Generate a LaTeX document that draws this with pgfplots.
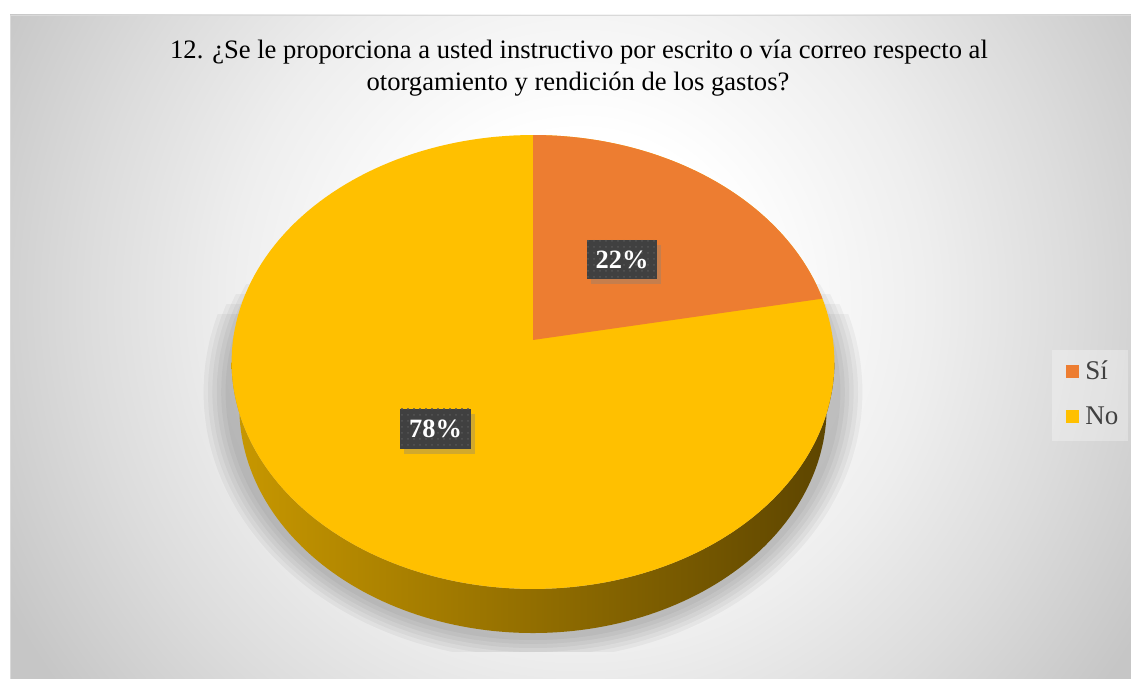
\documentclass[border=0pt]{standalone}
\usepackage{pgfplots}
\pgfplotsset{compat=1.18}
\usepackage{pgfplotstable}
\usetikzlibrary{shadows,patterns}
\usepackage{fontspec}
\setmainfont{Liberation Serif}
\definecolor{cSi}{HTML}{ED7D31}
\definecolor{cNo}{HTML}{FFC000}
\definecolor{wallL}{HTML}{C89800}
\definecolor{wallM}{HTML}{604800}
\definecolor{wallR}{HTML}{5C4400}
\definecolor{lblgray}{HTML}{404040}
\definecolor{dotgray}{HTML}{555555}
\definecolor{bgA}{HTML}{EEEEEE}
\definecolor{bgB}{HTML}{DCDCDC}
\definecolor{bgC}{HTML}{C6C6C6}
\definecolor{legtxt}{HTML}{404040}
\pgfdeclareradialshading{bgshade}{\pgfpoint{0bp}{0bp}}{color(0bp)=(white); color(6.5bp)=(white); color(13.5bp)=(bgA); color(19bp)=(bgB); color(25bp)=(bgC); color(50bp)=(bgC)}

\pgfplotstableread{
label value
Si 22
No 78
}\piedata
\pgfplotstablegetelem{0}{value}\of\piedata
\let\vSi\pgfplotsretval
\pgfmathsetmacro{\angB}{90-3.6*\vSi}

% perspective projection of the pie (pixel coordinates)
\def\topX{533+2049*cos(x)/(6.83+0.662*sin(x))}
\def\topY{340-1535.7*sin(x)/(6.83+0.662*sin(x))}
% wall outline: s in [0,1] front edge of top face, s in [1,2] front edge of bottom face (reversed)
\def\wallX{ifthenelse(x<=1, 533+2049*cos(185.6+168.8*x)/(6.83+0.662*sin(185.6+168.8*x)), 533+2049*cos(354.4-168.8*(x-1))/(7.009+0.662*sin(354.4-168.8*(x-1))))}
\def\wallY{ifthenelse(x<=1, 340-1535.7*sin(185.6+168.8*x)/(6.83+0.662*sin(185.6+168.8*x)), 340-(1535.7*sin(354.4-168.8*(x-1))-324.2)/(7.009+0.662*sin(354.4-168.8*(x-1))))}

\begin{document}
\begin{tikzpicture}
\begin{axis}[
  width=565.5pt, height=339.5pt, scale only axis, hide axis,
  xmin=0, xmax=1131, ymin=0, ymax=679, y dir=reverse,
]
% background
\fill[white] (axis cs:0,0) rectangle (axis cs:1131,679);
\begin{scope}
\clip (axis cs:10,15) rectangle (axis cs:1131,679);
\shade[shading=bgshade] (axis cs:-70,-350) rectangle (axis cs:1230,950);
\end{scope}
\draw[gray!30, line width=0.8pt] (axis cs:10.5,679) -- (axis cs:10.5,15.5) -- (axis cs:1131,15.5);

% soft shadow under the pie
\pgfplotsinvokeforeach{1,...,6}{
  \begin{scope}
  \clip (axis cs:0,{255+10*#1}) rectangle (axis cs:1131,651);
  \fill[black, opacity=0.04] (axis cs:533,392) ellipse [x radius={151.5pt+2.2pt*#1}, y radius={122pt+2pt*#1}];
  \end{scope}
}

% side wall
\addplot[draw=none, left color=wallL, middle color=wallM, right color=wallR, domain=0:2, samples=241, forget plot] ({\wallX},{\wallY}) -- cycle;

% top face: No (78%) then Si (22%)
\addplot[draw=none, fill=cNo, domain=0:360, samples=200, forget plot] ({\topX},{\topY}) -- cycle;
\addplot[draw=none, fill=cSi, domain=\angB:90, samples=80, forget plot] ({\topX},{\topY}) -- (axis cs:533,340) -- cycle;

% data labels
\node[fill=lblgray, postaction={pattern=dots, pattern color=dotgray}, text=white,
  font=\bfseries\fontsize{13.2}{14}\selectfont, minimum width=35pt, minimum height=19.5pt, inner sep=0pt,
  drop shadow={shadow xshift=2pt, shadow yshift=-2.5pt, opacity=0.35}] at (axis cs:622,259.5) {22\%};
\node[fill=lblgray, postaction={pattern=dots, pattern color=dotgray}, text=white,
  font=\bfseries\fontsize{13.2}{14}\selectfont, minimum width=35.5pt, minimum height=20pt, inner sep=0pt,
  drop shadow={shadow xshift=2pt, shadow yshift=-2.5pt, opacity=0.35}] at (axis cs:435.5,429) {78\%};

% title
\node[anchor=base, inner sep=0pt, font=\fontsize{13.3}{16}\selectfont] at (axis cs:579,59) {12. ¿Se le proporciona a usted instructivo por escrito o vía correo respecto al};
\node[anchor=base, inner sep=0pt, font=\fontsize{13.3}{16}\selectfont] at (axis cs:578,91) {otorgamiento y rendición de los gastos?};

% legend
\fill[white, opacity=0.3] (axis cs:1052,350) rectangle (axis cs:1128,441);
\fill[cSi] (axis cs:1066,365) rectangle (axis cs:1079,378);
\fill[cNo] (axis cs:1066,410) rectangle (axis cs:1079,423);
\node[anchor=base west, inner sep=0pt, text=legtxt, font=\fontsize{13.5}{16}\selectfont] at (axis cs:1085,380) {Sí};
\node[anchor=base west, inner sep=0pt, text=legtxt, font=\fontsize{13.5}{16}\selectfont] at (axis cs:1085,424) {No};
\end{axis}
\end{tikzpicture}
\end{document}
